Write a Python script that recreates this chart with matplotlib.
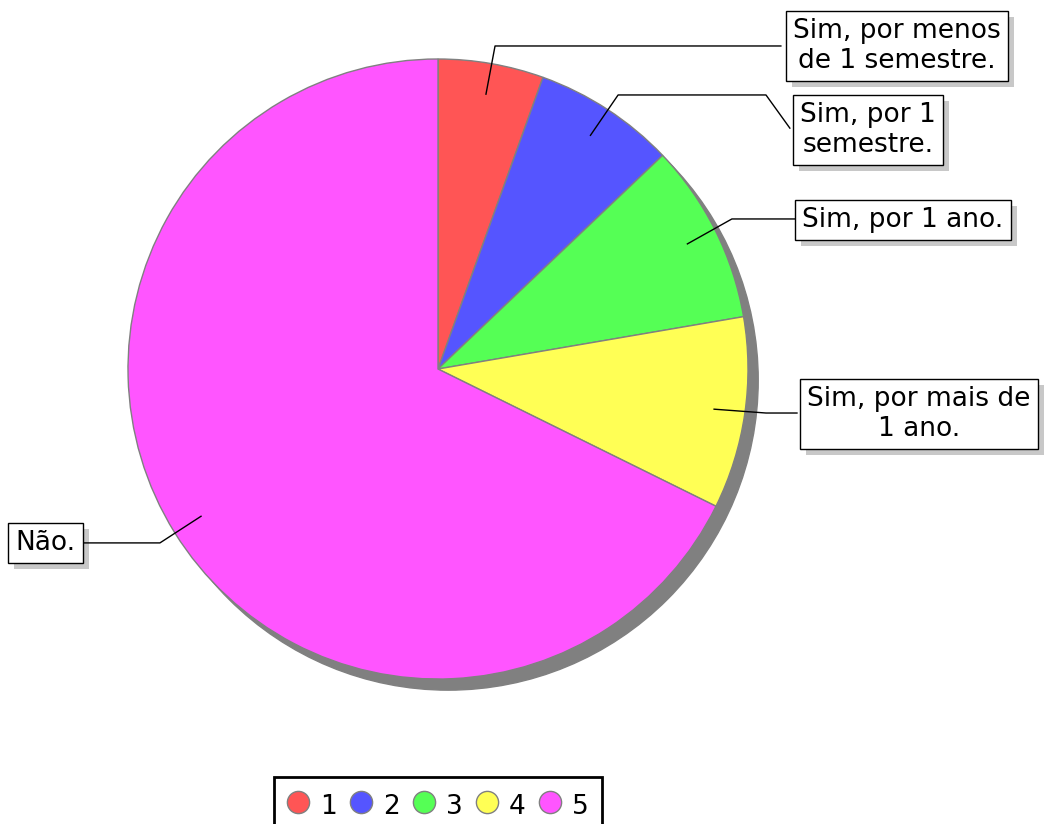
import numpy as np
import matplotlib.pyplot as plt
from matplotlib.lines import Line2D
from matplotlib.patches import Circle, Rectangle
import matplotlib.transforms as mtransforms

# dados
rotulos = ['Sim, por menos\nde 1 semestre.', 'Sim, por 1\nsemestre.', 'Sim, por 1 ano.',
           'Sim, por mais de\n1 ano.', 'Não.']
valores = [5.5, 7.4, 9.4, 10.0, 67.7]
legenda = ['1', '2', '3', '4', '5']
cores = ['#FF5555', '#5555FF', '#55FF55', '#FFFF55', '#FF55FF']

# layout (em unidades do raio): cotovelo, pontos finais da linha, centro da caixa
cotovelos = [(0.184, 1.042), (0.581, 0.884), (0.948, 0.484), (1.058, -0.142), (-0.897, -0.561)]
fins = [[(1.106, 1.042)],
        [(1.058, 0.884), (1.135, 0.777)],
        [(1.158, 0.484)],
        [(1.158, -0.142)],
        [(-1.148, -0.561)]]
caixas = [(1.481, 1.042), (1.387, 0.771), (1.500, 0.481), (1.552, -0.145), (-1.265, -0.561)]

fig = plt.figure(figsize=(10.45, 8.24), dpi=100)
ax = fig.add_axes([0, 0, 1, 1])

# sombra da pizza
ax.add_patch(Circle((0.033, -0.036), 1.0, color='#808080', zorder=0))

wedges, _ = ax.pie(valores, colors=cores, startangle=90, counterclock=False,
                   radius=1.0, wedgeprops=dict(edgecolor='#808080', linewidth=1))
for w in wedges:
    w.set_zorder(1)

ax.set_xlim(-438 / 310, (1045 - 438) / 310)
ax.set_ylim((369 - 824) / 310, 369 / 310)
ax.set_aspect('equal')
ax.axis('off')

total = sum(valores)
ang = 90.0
fs = 19
textos = []
for i, v in enumerate(valores):
    meio = np.deg2rad(ang - v / total * 360 / 2)
    ang -= v / total * 360
    pts = [(0.9 * np.cos(meio), 0.9 * np.sin(meio)), cotovelos[i]] + fins[i]
    ax.plot([p[0] for p in pts], [p[1] for p in pts], color='black', lw=1, zorder=3)
    bx, by = caixas[i]
    t = ax.text(bx, by, rotulos[i], ha='center', va='center', fontsize=fs, color='black',
                zorder=4, multialignment='center',
                bbox=dict(boxstyle='square,pad=0.28', facecolor='white', edgecolor='black', lw=1))
    textos.append(t)

# sombra das caixas de rótulo
fig.canvas.draw()
r = fig.canvas.get_renderer()
for t in textos:
    bb = t.get_bbox_patch().get_window_extent(r)
    ax.add_patch(Rectangle((bb.x0 + 6, bb.y0 - 6), bb.width, bb.height,
                           transform=mtransforms.IdentityTransform(),
                           facecolor='#c8c8c8', edgecolor='none', zorder=2.5))

handles = [Line2D([], [], marker='o', linestyle='none', markersize=16,
                  markerfacecolor=c, markeredgecolor='#808080') for c in cores]
leg = fig.legend(handles, legenda, loc='upper center', bbox_to_anchor=(438 / 1045, 1 - 777 / 824),
                 ncol=5, fontsize=fs, frameon=True, fancybox=False, edgecolor='black',
                 framealpha=1, handlelength=0.85, handleheight=1.4, handletextpad=0.4,
                 columnspacing=0.5, borderpad=0.5, borderaxespad=0)
leg.get_frame().set_linewidth(2)

fig.savefig('out.png', dpi=100)
